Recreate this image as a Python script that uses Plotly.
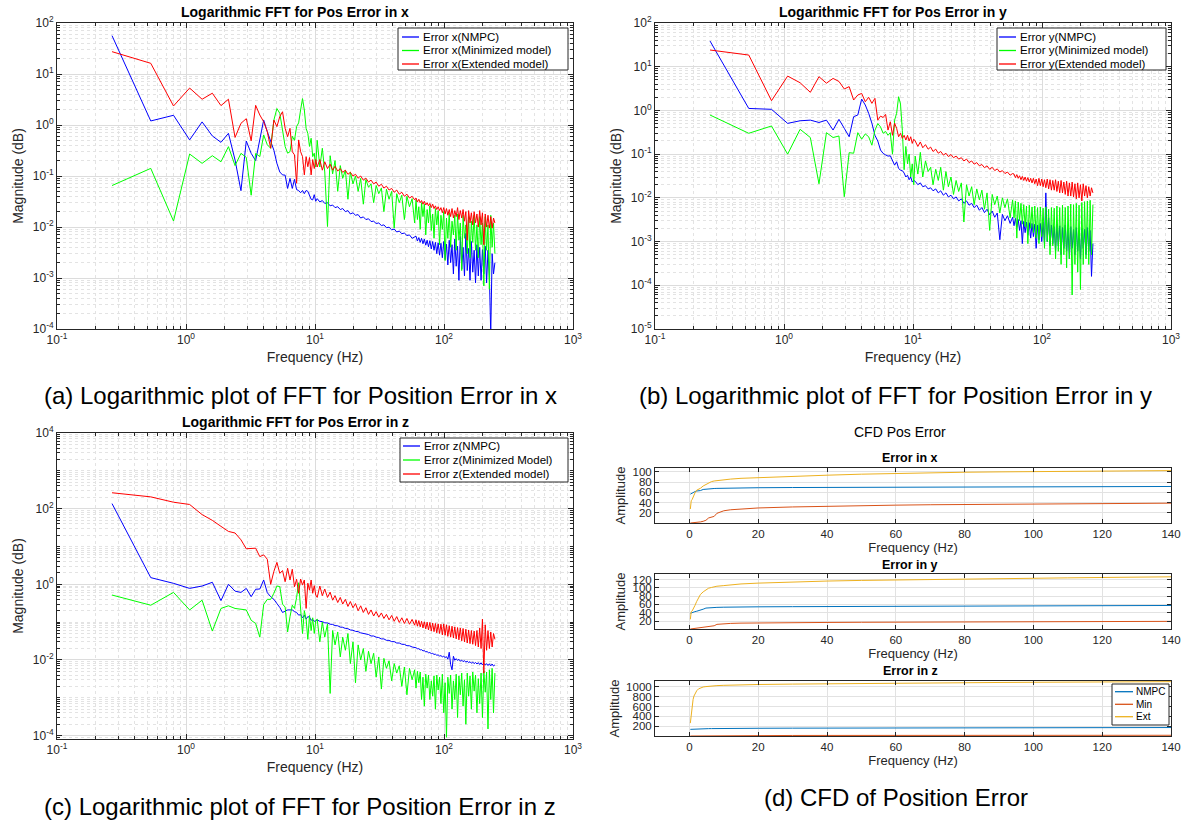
import plotly.graph_objects as go

W, H = 1189, 822
FONT = "Liberation Sans, Arial, Helvetica, sans-serif"
AX = "#262626"

# ---------------- data: frequency bins (Hz) ----------------
freq_low = [0.267, 0.533, 0.8, 1.067, 1.333, 1.6, 1.867, 2.133, 2.4, 2.667,
            2.933, 3.2, 3.467, 3.733, 4.0, 4.267, 4.533, 4.8, 5.067, 5.333,
            5.6, 5.867, 6.133, 6.4, 6.667, 6.933, 7.2, 7.467, 7.733, 8.0,
            8.267, 8.533, 8.8, 9.067, 9.333, 9.6, 9.867, 10.133]
freq_tail = [10.4, 10.9, 11.4, 11.9, 12.5, 13.1, 13.7, 14.3, 15.0, 15.7,
             16.4, 17.2, 18.0, 18.8, 19.7, 20.6, 21.6, 22.6, 23.7, 24.8,
             26.0, 27.2, 28.5, 29.8, 31.2, 32.7, 34.2, 35.8, 37.5, 39.3,
             41.1, 43.0, 45.0, 47.1, 49.3, 51.6, 54.0, 56.6, 59.2,
             60.7, 62.2, 63.8, 65.4, 67.0, 68.7, 70.4, 72.2, 74.0, 75.8,
             77.7, 79.7, 81.7, 83.7, 85.8, 87.9, 90.1, 92.4, 94.7, 97.1,
             99.5, 102.0, 104.5, 107.1, 109.8, 112.6, 115.4, 118.3, 121.2, 124.3,
             127.4, 130.5, 133.8, 137.2, 140.6, 144.1, 147.7, 151.4, 155.2, 159.1,
             163.0, 167.1, 171.3, 175.6, 180.0, 184.5, 189.1, 193.8, 198.6, 203.6,
             208.7, 213.9, 219.3, 224.7, 230.4, 236.1, 242.0, 248.1]
freq = freq_low + freq_tail

# ---------------- (a) FFT of error in x ----------------
ax_nmpc = [56.5, 1.2, 1.55, 0.51, 1.15, 0.61, 0.457, 0.687, 0.206, 0.0515,
           0.485, 0.278, 0.2, 0.5, 1.25, 0.74, 0.47, 0.32, 0.177, 0.12,
           0.105, 0.104, 0.057, 0.09, 0.057, 0.086, 0.054, 0.052, 0.047, 0.052,
           0.045, 0.052, 0.05, 0.04, 0.035, 0.034, 0.043, 0.032,
           0.036, 0.031, 0.033, 0.029, 0.03, 0.026, 0.027, 0.024, 0.025, 0.022,
           0.023, 0.02, 0.021, 0.018, 0.019, 0.017, 0.0175, 0.015, 0.0158, 0.014,
           0.0145, 0.0128, 0.013, 0.0117, 0.012, 0.0107, 0.011, 0.0097, 0.0099, 0.0088,
           0.0091, 0.008, 0.0083, 0.0074, 0.0076, 0.0068, 0.007, 0.006, 0.0064,
           0.0066, 0.0053, 0.0062, 0.005, 0.006, 0.0047, 0.0058, 0.0044, 0.0055, 0.0041,
           0.0054, 0.0037, 0.0052, 0.0035, 0.005, 0.003, 0.0049, 0.0028, 0.0048, 0.0025,
           0.0052, 0.0023, 0.0046, 0.0018, 0.0055, 0.002, 0.0045, 0.0012, 0.0058, 0.0017,
           0.0042, 0.0009, 0.0065, 0.0015, 0.004, 0.0011, 0.0075, 0.0014, 0.0038, 0.0009,
           0.0052, 0.0013, 0.0035, 0.0008, 0.0045, 0.0011, 0.004, 0.0009, 0.0036, 0.0012,
           0.0042, 0.0008, 0.0035, 0.0011, 0.00008, 0.003, 0.0012, 0.002]
ax_min = [0.065, 0.141, 0.0131, 0.27, 0.177, 0.25, 0.19, 0.376, 0.16, 0.278,
          0.232, 0.042, 0.278, 0.24, 0.64, 0.41, 0.35, 1.25, 2.1, 1.7,
          0.8, 0.38, 0.28, 0.3, 0.6, 0.5, 0.93, 1.1, 1.97, 3.3,
          1.97, 0.86, 0.68, 0.38, 0.55, 0.24, 0.28, 0.15,
          0.5, 0.15, 0.35, 0.12, 0.0102, 0.25, 0.11, 0.2, 0.05, 0.16,
          0.09, 0.13, 0.035, 0.12, 0.07, 0.1, 0.05, 0.09, 0.028, 0.085,
          0.06, 0.07, 0.03, 0.065, 0.045, 0.058, 0.02, 0.055, 0.035, 0.05,
          0.0095, 0.045, 0.03, 0.042, 0.014, 0.04, 0.025, 0.036, 0.012,
          0.034, 0.014, 0.025, 0.009, 0.03, 0.016, 0.028, 0.007, 0.022, 0.012,
          0.026, 0.0085, 0.018, 0.006, 0.023, 0.011, 0.021, 0.0045, 0.017, 0.009,
          0.02, 0.0022, 0.015, 0.006, 0.019, 0.004, 0.013, 0.007, 0.017, 0.0035,
          0.018, 0.0055, 0.012, 0.0014, 0.017, 0.006, 0.011, 0.003, 0.016, 0.0025,
          0.013, 0.005, 0.017, 0.0035, 0.011, 0.0025, 0.016, 0.0045, 0.012, 0.0007,
          0.016, 0.0035, 0.011, 0.0006, 0.017, 0.004, 0.012, 0.003]
ax_ext = [27.4, 16.2, 2.36, 5.3, 3.2, 4.2, 2.4, 3.2, 0.57, 1.08,
          1.33, 0.49, 2.43, 1.57, 1.16, 0.74, 0.35, 1.25, 0.93, 1.46,
          1.82, 0.86, 0.59, 0.86, 0.3, 0.26, 0.072, 0.51, 0.3, 0.24,
          0.105, 0.24, 0.152, 0.23, 0.105, 0.21, 0.14, 0.21,
          0.15, 0.21, 0.13, 0.19, 0.14, 0.17, 0.13, 0.155, 0.125, 0.14,
          0.118, 0.13, 0.108, 0.118, 0.1, 0.108, 0.091, 0.1, 0.083, 0.091,
          0.076, 0.083, 0.07, 0.076, 0.063, 0.069, 0.058, 0.063, 0.053, 0.057,
          0.048, 0.053, 0.044, 0.048, 0.04, 0.044, 0.037, 0.04, 0.034,
          0.037, 0.031, 0.035, 0.03, 0.033, 0.028, 0.032, 0.027, 0.03, 0.026,
          0.029, 0.024, 0.028, 0.023, 0.026, 0.022, 0.025, 0.021, 0.024, 0.019,
          0.024, 0.018, 0.023, 0.017, 0.022, 0.016, 0.023, 0.015, 0.021, 0.016,
          0.024, 0.014, 0.021, 0.015, 0.022, 0.013, 0.02, 0.0055, 0.021, 0.012,
          0.019, 0.011, 0.02, 0.012, 0.018, 0.01, 0.021, 0.011, 0.019, 0.0045,
          0.018, 0.01, 0.017, 0.0095, 0.016, 0.0095, 0.015, 0.012]

# ---------------- (b) FFT of error in y ----------------
by_nmpc = [38.7, 1.11, 1.06, 0.506, 0.58, 0.6, 0.53, 0.6, 0.356, 0.625,
           0.39, 0.25, 0.72, 0.785, 1.82, 1.33, 0.86, 0.51, 0.27, 0.2,
           0.124, 0.104, 0.096, 0.09, 0.092, 0.073, 0.056, 0.067, 0.047, 0.043,
           0.042, 0.037, 0.03, 0.033, 0.026, 0.03, 0.023, 0.025,
           0.024, 0.02, 0.022, 0.018, 0.019, 0.016, 0.017, 0.0145, 0.016, 0.013,
           0.0145, 0.0115, 0.013, 0.0105, 0.0115, 0.0095, 0.0105, 0.0085, 0.0095, 0.0075,
           0.0085, 0.0068, 0.0075, 0.006, 0.0068, 0.0052, 0.006, 0.0046, 0.0055, 0.0041,
           0.005, 0.0036, 0.0045, 0.0011, 0.0042, 0.003, 0.0039, 0.0026, 0.0036,
           0.0023, 0.0034, 0.0021, 0.0032, 0.0018, 0.003, 0.0009, 0.0029, 0.0016, 0.0028,
           0.0014, 0.0027, 0.0012, 0.0026, 0.0013, 0.0025, 0.0007, 0.0024, 0.0011, 0.0026,
           0.001, 0.0028, 0.0009, 0.013, 0.001, 0.0035, 0.0008, 0.0024, 0.0009, 0.0022,
           0.0006, 0.0025, 0.0008, 0.0023, 0.0005, 0.0021, 0.0007, 0.0024, 0.0006, 0.002,
           0.0004, 0.0022, 0.0007, 0.0019, 0.0005, 0.0021, 0.0006, 0.0018, 0.0004, 0.002,
           0.0007, 0.0019, 0.0005, 0.0021, 0.0006, 0.0018, 0.00016, 0.0009]
by_min = [0.785, 0.3, 0.44, 0.1, 0.37, 0.24, 0.021, 0.31, 0.24, 0.26,
          0.0106, 0.108, 0.105, 0.31, 0.22, 0.29, 0.25, 0.16, 0.35, 0.5,
          0.42, 0.3, 0.33, 0.27, 0.31, 0.1, 0.6, 0.86, 2.06, 1.4,
          0.35, 0.044, 0.15, 0.06, 0.1, 0.03, 0.06, 0.02,
          0.09, 0.035, 0.11, 0.03, 0.07, 0.04, 0.05, 0.02, 0.045, 0.025,
          0.05, 0.015, 0.04, 0.018, 0.03, 0.012, 0.025, 0.014, 0.022, 0.0028,
          0.02, 0.011, 0.018, 0.007, 0.016, 0.009, 0.015, 0.0055, 0.013, 0.0018,
          0.012, 0.007, 0.011, 0.0045, 0.01, 0.006, 0.0095, 0.0035, 0.009,
          0.0035, 0.0085, 0.0012, 0.008, 0.003, 0.0075, 0.0025, 0.007, 0.0022, 0.0065,
          0.0009, 0.0068, 0.002, 0.0062, 0.0016, 0.0065, 0.0012, 0.006, 0.0009, 0.0062,
          0.0013, 0.0058, 0.0007, 0.0062, 0.001, 0.0055, 0.0005, 0.006, 0.0008, 0.0058,
          0.0004, 0.0065, 0.0006, 0.006, 0.0003, 0.0068, 0.0005, 0.006, 0.00025, 0.0065,
          0.0004, 0.0072, 0.00006, 0.007, 0.0003, 0.0075, 0.0002, 0.0068, 0.00008, 0.0078,
          0.0003, 0.0082, 0.0004, 0.0085, 0.0003, 0.0088, 0.0005, 0.007]
by_ext = [24.1, 18.5, 1.67, 6.1, 4.3, 2.6, 5.9, 4.2, 5.4, 4.6,
          3.1, 3.5, 1.73, 2.25, 2.45, 1.58, 2.0, 1.45, 1.89, 0.6,
          0.74, 0.69, 0.81, 0.355, 0.55, 0.27, 0.51, 0.39, 0.25, 0.3,
          0.23, 0.27, 0.21, 0.27, 0.2, 0.25, 0.176, 0.22,
          0.2, 0.15, 0.19, 0.14, 0.165, 0.13, 0.145, 0.115, 0.13, 0.105,
          0.115, 0.095, 0.105, 0.088, 0.098, 0.083, 0.09, 0.077, 0.083, 0.07,
          0.077, 0.064, 0.07, 0.059, 0.064, 0.054, 0.058, 0.049, 0.054, 0.045,
          0.05, 0.042, 0.046, 0.039, 0.042, 0.036, 0.039, 0.033, 0.036,
          0.035, 0.029, 0.034, 0.028, 0.032, 0.026, 0.031, 0.025, 0.03, 0.024,
          0.029, 0.023, 0.028, 0.022, 0.028, 0.021, 0.027, 0.019, 0.028, 0.019,
          0.027, 0.018, 0.026, 0.017, 0.027, 0.016, 0.026, 0.015, 0.025, 0.015,
          0.026, 0.014, 0.024, 0.013, 0.025, 0.013, 0.023, 0.012, 0.024, 0.011,
          0.022, 0.011, 0.023, 0.0105, 0.021, 0.0095, 0.022, 0.01, 0.02, 0.0085,
          0.021, 0.011, 0.019, 0.01, 0.018, 0.011, 0.017, 0.013]

# ---------------- (c) FFT of error in z ----------------
cz_nmpc = [136, 1.5, 1.06, 0.78, 0.9, 1.13, 0.37, 1.0, 0.66, 0.61,
           0.78, 0.47, 0.74, 0.75, 1.3, 0.6, 0.47, 0.4, 0.31, 0.245,
           0.18, 0.2, 0.21, 0.21, 0.21, 0.19, 0.18, 0.153, 0.158, 0.13,
           0.153, 0.12, 0.14, 0.135, 0.112, 0.118, 0.105, 0.108,
           0.115, 0.105, 0.103, 0.096, 0.095, 0.088, 0.087, 0.081, 0.08, 0.074,
           0.073, 0.068, 0.067, 0.062, 0.061, 0.057, 0.056, 0.052, 0.051, 0.048,
           0.047, 0.043, 0.043, 0.04, 0.039, 0.036, 0.036, 0.033, 0.033, 0.0305,
           0.0305, 0.028, 0.028, 0.026, 0.0258, 0.0238, 0.0237, 0.022, 0.0218,
           0.021, 0.0198, 0.0198, 0.0185, 0.0187, 0.0174, 0.0176, 0.0164, 0.0166, 0.0155,
           0.0157, 0.0147, 0.0149, 0.014, 0.0142, 0.0133, 0.0136, 0.0127, 0.013, 0.0121,
           0.0125, 0.0116, 0.0122, 0.0105, 0.016, 0.0075, 0.0055, 0.0125, 0.0098, 0.0108,
           0.0097, 0.0104, 0.0093, 0.0099, 0.009, 0.0096, 0.0087, 0.0093, 0.0085, 0.009,
           0.0082, 0.0088, 0.008, 0.0086, 0.0078, 0.0085, 0.0076, 0.0084, 0.0074, 0.0082,
           0.0073, 0.008, 0.0071, 0.0079, 0.007, 0.0078, 0.0069, 0.0074]
cz_min = [0.52, 0.28, 0.61, 0.21, 0.38, 0.058, 0.23, 0.27, 0.23, 0.22,
          0.21, 0.112, 0.092, 0.04, 0.29, 0.4, 0.4, 0.58, 0.9, 0.87,
          0.3, 0.25, 0.055, 0.14, 0.28, 0.23, 0.45, 1.1, 0.25, 0.05,
          0.2, 0.12, 0.035, 0.15, 0.06, 0.13, 0.05, 0.11,
          0.12, 0.03, 0.1, 0.04, 0.09, 0.0013, 0.06, 0.025, 0.055, 0.012,
          0.04, 0.018, 0.05, 0.008, 0.03, 0.0025, 0.025, 0.01, 0.02, 0.005,
          0.017, 0.008, 0.015, 0.0035, 0.012, 0.0017, 0.011, 0.006, 0.0095, 0.0028,
          0.008, 0.0045, 0.007, 0.002, 0.0065, 0.0012, 0.006, 0.003, 0.0055,
          0.0018, 0.005, 0.0025, 0.0048, 0.0009, 0.0035, 0.0006, 0.0042, 0.0018, 0.004,
          0.0009, 0.0028, 0.0011, 0.0038, 0.0005, 0.004, 0.0016, 0.0035, 0.0007, 0.0042,
          0.0004, 0.0025, 0.00009, 0.0035, 0.0013, 0.004, 0.0005, 0.0028, 0.0009, 0.0042,
          0.0003, 0.0038, 0.0012, 0.0045, 0.0006, 0.003, 0.0002, 0.0045, 0.0011, 0.0038,
          0.0005, 0.0048, 0.0015, 0.004, 0.0004, 0.0032, 0.0007, 0.0045, 0.0003, 0.0052,
          0.0014, 0.0048, 0.00015, 0.0055, 0.0009, 0.006, 0.0004, 0.0045]
cz_ext = [263, 205, 148, 129, 69.6, 49, 34, 25, 22.7, 15,
          8.7, 9.0, 9.0, 5.4, 6.0, 4.6, 1.0, 2.2, 3.8, 1.95,
          2.3, 1.17, 2.66, 1.3, 2.5, 0.86, 1.36, 0.58, 1.38, 0.96,
          1.3, 0.23, 1.07, 0.7, 1.3, 0.58, 0.92, 0.52,
          0.45, 0.9, 0.5, 0.75, 0.45, 0.62, 0.38, 0.5, 0.33, 0.45,
          0.3, 0.4, 0.26, 0.35, 0.24, 0.31, 0.2, 0.27, 0.18, 0.24,
          0.16, 0.21, 0.145, 0.19, 0.135, 0.175, 0.125, 0.16, 0.115, 0.15,
          0.105, 0.14, 0.098, 0.13, 0.092, 0.125, 0.088, 0.118, 0.083,
          0.115, 0.078, 0.11, 0.075, 0.105, 0.07, 0.102, 0.066, 0.1, 0.062,
          0.098, 0.058, 0.095, 0.056, 0.092, 0.052, 0.09, 0.05, 0.088, 0.046,
          0.09, 0.045, 0.085, 0.042, 0.08, 0.04, 0.078, 0.038, 0.075, 0.036,
          0.072, 0.034, 0.07, 0.032, 0.068, 0.03, 0.065, 0.028, 0.062, 0.027,
          0.06, 0.026, 0.058, 0.024, 0.06, 0.022, 0.07, 0.02, 0.12, 0.0045,
          0.085, 0.018, 0.06, 0.02, 0.055, 0.022, 0.05, 0.035]

# ---------------- (d) cumulative frequency distribution ----------------
cfd_freq = [0.27, 0.53, 0.8, 1.07, 1.33, 1.6, 2.13, 2.67, 3.2, 4.0,
            4.8, 5.6, 6.4, 7.2, 8.0, 10, 12, 15, 20, 30,
            40, 50, 60, 70, 80, 90, 100, 110, 120, 130, 140, 150]
cfd_x_nmpc = [56.5, 57.7, 59.3, 59.8, 60.9, 61.5, 62.7, 63.0, 63.5, 65.7,
              66.5, 67.0, 67.3, 67.6, 67.8, 68.2, 68.5, 68.8, 69.1, 69.5,
              69.8, 70.0, 70.2, 70.4, 70.6, 70.8, 71.0, 71.1, 71.3, 71.4, 71.6, 71.7]
cfd_x_min = [0.06, 0.2, 0.22, 0.49, 0.67, 0.92, 1.5, 1.9, 2.2, 3.4,
             5.4, 10.0, 11.0, 13.0, 19.0, 24.0, 26.0, 27.5, 29.5, 31.5,
             33.0, 34.0, 35.0, 35.8, 36.4, 37.0, 37.5, 37.9, 38.3, 38.7, 39.0, 39.3]
cfd_x_ext = [27.4, 43.6, 46.0, 51.3, 54.5, 58.7, 64.3, 66.0, 68.0, 72.5,
             75.5, 79.5, 81.0, 82.3, 83.0, 84.5, 86.0, 87.5, 89.0, 91.5,
             93.6, 95.6, 97.2, 98.4, 99.4, 100.1, 100.8, 101.4, 102.0, 102.4, 102.8, 103.1]
cfd_y_nmpc = [38.7, 39.8, 40.9, 41.4, 42.0, 42.6, 43.7, 44.7, 45.3, 48.6,
              51.3, 52.0, 52.5, 52.8, 53.0, 53.4, 53.7, 54.0, 54.3, 54.7,
              55.0, 55.3, 55.6, 55.9, 56.2, 56.5, 56.8, 57.0, 57.2, 57.4, 57.6, 57.8]
cfd_y_min = [0.79, 1.09, 1.53, 1.63, 2.0, 2.24, 2.57, 3.07, 3.19, 3.83,
             4.53, 6.1, 7.0, 8.6, 12.0, 13.5, 14.3, 15.0, 15.6, 16.2,
             16.6, 17.0, 17.3, 17.6, 17.9, 18.2, 18.5, 18.7, 18.9, 19.1, 19.3, 19.5]
cfd_y_ext = [24.1, 42.6, 44.3, 50.4, 54.7, 57.3, 67.4, 77.4, 84.0, 90.4,
             95.4, 99.3, 101.0, 102.5, 104.0, 105.5, 107.5, 109.5, 111.5, 114.5,
             116.5, 118.0, 119.3, 120.4, 121.4, 122.4, 123.3, 124.2, 125.1, 126.0, 126.8, 127.5]
cfd_z_nmpc = [136, 137.5, 138.6, 139.4, 140.3, 141.4, 142.8, 143.4, 144.0, 148.0,
              149.5, 150.5, 151.3, 152.0, 152.6, 153.8, 155.0, 156.3, 158.0, 160.0,
              161.8, 163.3, 164.7, 166.0, 167.2, 168.3, 169.4, 170.4, 171.4, 172.3, 173.2, 174.0]
cfd_z_min = [0.52, 0.8, 1.41, 1.62, 2.0, 2.06, 2.56, 2.78, 3.01, 3.75,
             4.4, 5.5, 6.2, 7.3, 7.9, 8.8, 9.5, 10.1, 10.8, 11.6,
             12.2, 12.7, 13.1, 13.5, 13.8, 14.1, 14.4, 14.7, 14.9, 15.1, 15.3, 15.5]
cfd_z_ext = [263, 468, 616, 745, 815, 864, 923, 961, 979, 999,
             1007, 1015, 1020, 1024, 1027, 1033, 1038, 1044, 1050, 1058,
             1066, 1072, 1077, 1082, 1087, 1091, 1095, 1099, 1102, 1105, 1108, 1111]

fft_names = {
    "a": ["Error x(NMPC)", "Error x(Minimized model)", "Error x(Extended model)"],
    "b": ["Error y(NMPC)", "Error y(Minimized model)", "Error y(Extended model)"],
    "c": ["Error z(NMPC)", "Error z(Minimized Model)", "Error z(Extended model)"],
}
cfd_names = ["NMPC", "Min", "Ext"]
fft_colors = ["#0000ff", "#00ff00", "#ff0000"]
cfd_colors = ["#0072bd", "#d95319", "#edb120"]


# ---------------- helpers (pixel -> paper) ----------------
def lx(p):
    return p / W


def ly(p):
    return 1 - p / H


fig = go.Figure()

fft_sets = [("x", "y", [ax_nmpc, ax_min, ax_ext], "a"),
            ("x2", "y2", [by_nmpc, by_min, by_ext], "b"),
            ("x3", "y3", [cz_nmpc, cz_min, cz_ext], "c")]
for xa, ya, series, key in fft_sets:
    for vals, col, name in zip(series, fft_colors, fft_names[key]):
        fig.add_trace(go.Scatter(x=freq, y=vals, mode="lines", name=name,
                                 line=dict(color=col, width=1), xaxis=xa, yaxis=ya,
                                 showlegend=False))

cfd_sets = [("x4", "y4", [cfd_x_nmpc, cfd_x_min, cfd_x_ext]),
            ("x5", "y5", [cfd_y_nmpc, cfd_y_min, cfd_y_ext]),
            ("x6", "y6", [cfd_z_nmpc, cfd_z_min, cfd_z_ext])]
for xa, ya, series in cfd_sets:
    for vals, col, name in zip(series, cfd_colors, cfd_names):
        fig.add_trace(go.Scatter(x=cfd_freq, y=vals, mode="lines", name=name,
                                 line=dict(color=col, width=1), xaxis=xa, yaxis=ya,
                                 showlegend=False))


def log_axis(dom, lo, hi, anchor, step=1, rng=None, title=None, standoff=4):
    exps = list(range(lo, hi + 1, step))
    vals = [10.0 ** e for e in exps]
    txt = ["10<sup>%d</sup>" % e for e in exps]
    minor = [m * 10.0 ** e for e in range(lo - 1, hi + 1) for m in range(2, 10)]
    minor += [10.0 ** e for e in range(lo, hi + 1) if e not in exps]
    d = dict(type="log", domain=dom, anchor=anchor, automargin=False,
             range=rng if rng else [lo, hi],
             tickmode="array", tickvals=vals, ticktext=txt,
             ticks="inside", ticklen=5, tickcolor=AX, tickwidth=1,
             showline=True, linecolor=AX, linewidth=1, mirror="ticks",
             showgrid=True, gridcolor="#dcdcdc", gridwidth=1, zeroline=False,
             tickfont=dict(family=FONT, size=12, color=AX),
             minor=dict(tickmode="array", tickvals=minor, ticks="inside", ticklen=3,
                        tickcolor=AX, showgrid=True, gridcolor="#e3e3e3", griddash="dot"))
    if title:
        d["title"] = dict(text=title, font=dict(family=FONT, size=14, color=AX), standoff=standoff)
    return d


def lin_axis(dom, rng, anchor, tickvals, title=None, standoff=4):
    d = dict(type="linear", domain=dom, anchor=anchor, range=rng, automargin=False,
             tickmode="array", tickvals=tickvals,
             ticks="inside", ticklen=4, tickcolor=AX, tickwidth=1,
             showline=True, linecolor=AX, linewidth=1, mirror="ticks",
             showgrid=True, gridcolor="#e2e2e2", gridwidth=1, zeroline=False,
             tickfont=dict(family=FONT, size=11.5, color=AX))
    if title:
        d["title"] = dict(text=title, font=dict(family=FONT, size=13, color=AX), standoff=standoff)
    return d


xa_dom = [lx(57), lx(573)]
xb_dom = [lx(655), lx(1171)]
ya_dom = [ly(329), ly(23)]
yc_dom = [ly(739), ly(433)]
xd_dom = [lx(655), lx(1171)]
fticks = [0, 20, 40, 60, 80, 100, 120, 140]

fig.update_layout(
    width=W, height=H, margin=dict(l=0, r=0, t=0, b=0, autoexpand=False),
    paper_bgcolor="white", plot_bgcolor="white", showlegend=False,
    font=dict(family=FONT, color=AX),
    xaxis=log_axis(xa_dom, -1, 3, "y", title="Frequency (Hz)", standoff=5),
    yaxis=log_axis(ya_dom, -4, 2, "x", title="Magnitude (dB)", standoff=5),
    xaxis2=log_axis(xb_dom, -1, 3, "y2", title="Frequency (Hz)", standoff=5),
    yaxis2=log_axis(ya_dom, -5, 2, "x2", title="Magnitude (dB)", standoff=5),
    xaxis3=log_axis(xa_dom, -1, 3, "y3", title="Frequency (Hz)", standoff=5),
    yaxis3=log_axis(yc_dom, -4, 4, "x3", step=2, rng=[-4.09, 4], title="Magnitude (dB)", standoff=5),
    xaxis4=lin_axis(xd_dom, [-10, 140], "y4", fticks, title="Frequency (Hz)", standoff=2),
    yaxis4=lin_axis([ly(523), ly(468)], [0.06, 107.7], "x4", [20, 40, 60, 80, 100], title="Amplitude", standoff=3),
    xaxis5=lin_axis(xd_dom, [-10, 140], "y5", fticks, title="Frequency (Hz)", standoff=2),
    yaxis5=lin_axis([ly(629), ly(574)], [0.79, 133.5], "x5", [20, 40, 60, 80, 100, 120], title="Amplitude", standoff=3),
    xaxis6=lin_axis(xd_dom, [-10, 140], "y6", fticks, title="Frequency (Hz)", standoff=2),
    yaxis6=lin_axis([ly(736), ly(681)], [0.52, 1121], "x6", [200, 400, 600, 800, 1000], title="Amplitude", standoff=3),
)


def text(px, py, s, size, bold=False, anchor="center", color="black"):
    fig.add_annotation(x=lx(px), y=ly(py), xref="paper", yref="paper",
                       text=("<b>%s</b>" % s) if bold else s, showarrow=False,
                       xanchor=anchor, yanchor="middle",
                       font=dict(family=FONT, size=size, color=color))


# panel titles
text(295, 12, "Logarithmic FFT for Pos Error in x", 14, bold=True)
text(893, 12, "Logarithmic FFT for Pos Error in y", 14, bold=True)
text(295, 422, "Logarithmic FFT for Pos Error in z", 14, bold=True)
text(900, 432, "CFD Pos Error", 14)
text(910, 458, "Error in x", 12.5, bold=True)
text(910, 565, "Error in y", 12.5, bold=True)
text(910, 671, "Error in z", 12.5, bold=True)

# captions
text(300, 395, "(a) Logarithmic plot of FFT for Position Error in x", 24)
text(895, 395, "(b) Logarithmic plot of FFT for Position Error in y", 24)
text(300, 806, "(c) Logarithmic plot of FFT for Position Error in z", 24)
text(896, 797, "(d) CFD of Position Error", 24)


# legends drawn as boxed keys
def legend(box, line_x, text_x, ys, colors, labels, size):
    fig.add_shape(type="rect", xref="paper", yref="paper",
                  x0=lx(box[0]), x1=lx(box[1]), y0=ly(box[3]), y1=ly(box[2]),
                  line=dict(color=AX, width=1), fillcolor="white", layer="above")
    for y, c, lab in zip(ys, colors, labels):
        fig.add_shape(type="line", xref="paper", yref="paper",
                      x0=lx(line_x[0]), x1=lx(line_x[1]), y0=ly(y), y1=ly(y),
                      line=dict(color=c, width=1.3), layer="above")
        text(text_x, y, lab, size, anchor="left", color="black")


legend((398, 568, 28, 70), (402, 419), 421, (37, 50.5, 64), fft_colors, fft_names["a"], 11.5)
legend((997, 1166, 28, 70), (999, 1016), 1018, (37, 50.5, 64), fft_colors, fft_names["b"], 11.5)
legend((400, 568, 438, 482), (403, 420), 422, (446, 460, 474), fft_colors, fft_names["c"], 11.5)
legend((1112, 1169, 684, 725), (1115, 1133), 1134, (691.7, 704.3, 716.7), cfd_colors, cfd_names, 10)

fig.write_html("out.html")
